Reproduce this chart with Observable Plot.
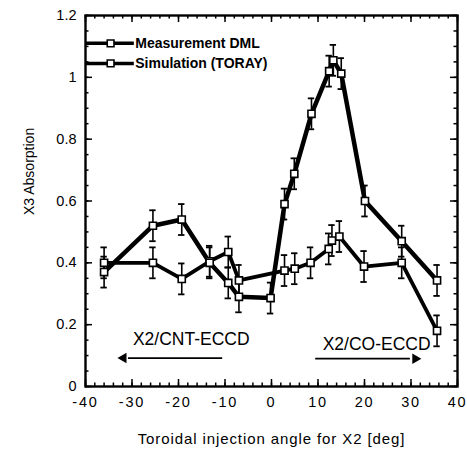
<!DOCTYPE html>
<html>
<head>
<meta charset="utf-8">
<script src="https://cdn.jsdelivr.net/npm/d3@7"></script>
<script src="https://cdn.jsdelivr.net/npm/@observablehq/plot@0.6"></script>
<style>
  html, body { margin: 0; padding: 0; background: #fff; }
  svg { font-family: "Liberation Sans", Arial, Helvetica, sans-serif; }
</style>
</head>
<body>
<div id="chart"></div>
<script>
// Measurement DML (peaked series)
const measX = [-36, -25.5, -19.3, -13.3, -9.3, -7.0, -0.2, 2.8, 4.9, 8.6, 12.4, 13.3, 15.0, 20.1, 28.0, 35.6];
const measY = [0.37, 0.52, 0.54, 0.40, 0.335, 0.29, 0.286, 0.59, 0.688, 0.882, 1.02, 1.055, 1.012, 0.60, 0.47, 0.343];
const measErr = [0.05, 0.05, 0.05, 0.05, 0.05, 0.05, 0.05, 0.05, 0.05, 0.05, 0.05, 0.05, 0.05, 0.05, 0.05, 0.05];
// Simulation (TORAY)
const simX = [-36, -25.5, -19.3, -13.3, -9.3, -7.0, 2.8, 5.0, 8.4, 12.3, 13.0, 14.6, 19.9, 28.0, 35.6];
const simY = [0.40, 0.40, 0.348, 0.405, 0.435, 0.343, 0.375, 0.381, 0.40, 0.445, 0.472, 0.485, 0.388, 0.40, 0.18];
const simErr = [0.05, 0.05, 0.05, 0.05, 0.05, 0.05, 0.05, 0.05, 0.05, 0.05, 0.05, 0.05, 0.05, 0.05, 0.05];

const seriesNames = ["Measurement DML", "Simulation (TORAY)"];
const xMajorTicks = [-40, -30, -20, -10, 0, 10, 20, 30, 40];
const yMajorTicks = [0, 0.2, 0.4, 0.6, 0.8, 1.0, 1.2];
const xMinorTicks = d3.range(-40, 40.001, 2);
const yMinorTicks = d3.range(0, 1.2001, 0.05);

const xLabel = "Toroidal injection angle for X2 [deg]";
const yLabel = "X3 Absorption";

// annotations (data coordinates)
const annTexts = [
  {text: "X2/CNT-ECCD", x: -29.8, y: 0.152},
  {text: "X2/CO-ECCD", x: 11.0, y: 0.136}
];
const arrows = [
  {x1: -10.5, x2: -32.7, y: 0.092, dir: -1},
  {x1: 9.5, x2: 31.8, y: 0.09, dir: 1}
];
// legend (data coordinates)
const legendRows = [
  {name: seriesNames[0], y: 1.11},
  {name: seriesNames[1], y: 1.045}
];
const legendLineX = [-40, -29.5];
const legendMarkX = -34.6;
const legendTextX = -29.3;

const meas = measX.map((x, i) => ({x, y: measY[i], e: measErr[i]}));
const sim = simX.map((x, i) => ({x, y: simY[i], e: simErr[i]}));
const all = meas.concat(sim);

const W = 467, H = 455;
const mL = 85, mR = 10, mT = 15, mB = 69;
const pxPerX = (W - mL - mR) / 80;
const pxPerY = (H - mT - mB) / 1.2;
const majX = 7 / pxPerY, minX = 3.5 / pxPerY; // tick lengths in y units (for x ticks)
const majY = 7 / pxPerX, minY = 3.5 / pxPerX; // tick lengths in x units (for y ticks)
const capW = 3.2 / pxPerX;
const headBack = 9 / pxPerX;

const fmt = d => String(+d.toFixed(1));

const chart = Plot.plot({
  width: W,
  height: H,
  marginLeft: mL,
  marginRight: mR,
  marginTop: mT,
  marginBottom: mB,
  style: {fontFamily: '"Liberation Sans", Arial, sans-serif', background: "white", color: "black"},
  x: {domain: [-40, 40], ticks: 8, tickSize: 0, tickPadding: 10, tickFormat: fmt, label: null},
  y: {domain: [0, 1.2], ticks: 6, tickSize: 0, tickPadding: 9, tickFormat: fmt, label: null},
  marks: [
    // minor / major inward ticks, bottom & top
    Plot.ruleX(xMinorTicks, {x: d => d, y1: 0, y2: minX, stroke: "black", strokeWidth: 1.5}),
    Plot.ruleX(xMinorTicks, {x: d => d, y1: 1.2, y2: 1.2 - minX, stroke: "black", strokeWidth: 1.5}),
    Plot.ruleX(xMajorTicks, {x: d => d, y1: 0, y2: majX, stroke: "black", strokeWidth: 1.5}),
    Plot.ruleX(xMajorTicks, {x: d => d, y1: 1.2, y2: 1.2 - majX, stroke: "black", strokeWidth: 1.5}),
    // left & right
    Plot.ruleY(yMinorTicks, {y: d => d, x1: -40, x2: -40 + minY, stroke: "black", strokeWidth: 1.5}),
    Plot.ruleY(yMinorTicks, {y: d => d, x1: 40, x2: 40 - minY, stroke: "black", strokeWidth: 1.5}),
    Plot.ruleY(yMajorTicks, {y: d => d, x1: -40, x2: -40 + majY, stroke: "black", strokeWidth: 1.5}),
    Plot.ruleY(yMajorTicks, {y: d => d, x1: 40, x2: 40 - majY, stroke: "black", strokeWidth: 1.5}),
    Plot.frame({stroke: "black", strokeWidth: 2.4}),

    // error bars
    Plot.ruleX(all, {x: "x", y1: d => d.y - d.e, y2: d => d.y + d.e, stroke: "black", strokeWidth: 1.6}),
    Plot.ruleY(all, {y: d => d.y + d.e, x1: d => d.x - capW, x2: d => d.x + capW, stroke: "black", strokeWidth: 1.8}),
    Plot.ruleY(all, {y: d => d.y - d.e, x1: d => d.x - capW, x2: d => d.x + capW, stroke: "black", strokeWidth: 1.8}),

    // lines
    Plot.line(sim, {x: "x", y: "y", stroke: "black", strokeWidth: 3.8, strokeLinejoin: "round"}),
    Plot.line(meas, {x: "x", y: "y", stroke: "black", strokeWidth: 4.5, strokeLinejoin: "round"}),

    // markers
    Plot.dot(sim, {x: "x", y: "y", symbol: "square", r: 4, fill: "white", stroke: "black", strokeWidth: 1.6}),
    Plot.dot(meas, {x: "x", y: "y", symbol: "square", r: 4, fill: "white", stroke: "black", strokeWidth: 1.6}),

    // legend
    Plot.ruleY(legendRows, {y: "y", x1: legendLineX[0], x2: legendLineX[1], stroke: "black", strokeWidth: 3.5}),
    Plot.dot(legendRows, {x: () => legendMarkX, y: "y", symbol: "square", r: 3.8, fill: "white", stroke: "black", strokeWidth: 1.6}),
    Plot.text(legendRows, {x: () => legendTextX, y: "y", text: "name", textAnchor: "start", fontSize: 14, fontWeight: "bold", fill: "black"}),

    // annotations
    Plot.text(annTexts, {x: "x", y: "y", text: "text", textAnchor: "start", fontSize: 17.5, fill: "black"}),
    Plot.ruleY(arrows, {y: "y", x1: "x1", x2: d => d.x2 - d.dir * headBack, stroke: "black", strokeWidth: 1.8}),
    Plot.dot(arrows, {x: d => d.x2 - d.dir * headBack * 0.45, y: "y", symbol: "triangle2", r: 5, fill: "black", stroke: "none", rotate: d => d.dir * 90}),

    // axis titles
    Plot.text([xLabel], {frameAnchor: "bottom", dy: 57, text: d => d, fontSize: 15, fill: "black", style: {letterSpacing: "0.9px"}}),
    Plot.text([yLabel], {frameAnchor: "left", dx: -56, dy: 14, rotate: -90, text: d => d, fontSize: 14, fill: "black"})
  ]
});

// style tick labels
chart.querySelectorAll('[aria-label="x-axis tick label"] text, [aria-label="y-axis tick label"] text').forEach(t => {
  t.style.fontSize = "14.5px";
});
chart.querySelectorAll('[aria-label="x-axis tick label"] text').forEach(t => {
  t.style.letterSpacing = "1.8px";
});
chart.querySelectorAll('[aria-label="text"] text').forEach(t => {
  if (t.textContent === xLabel) t.style.letterSpacing = "0.9px";
});
document.getElementById("chart").appendChild(chart);
</script>
</body>
</html>
